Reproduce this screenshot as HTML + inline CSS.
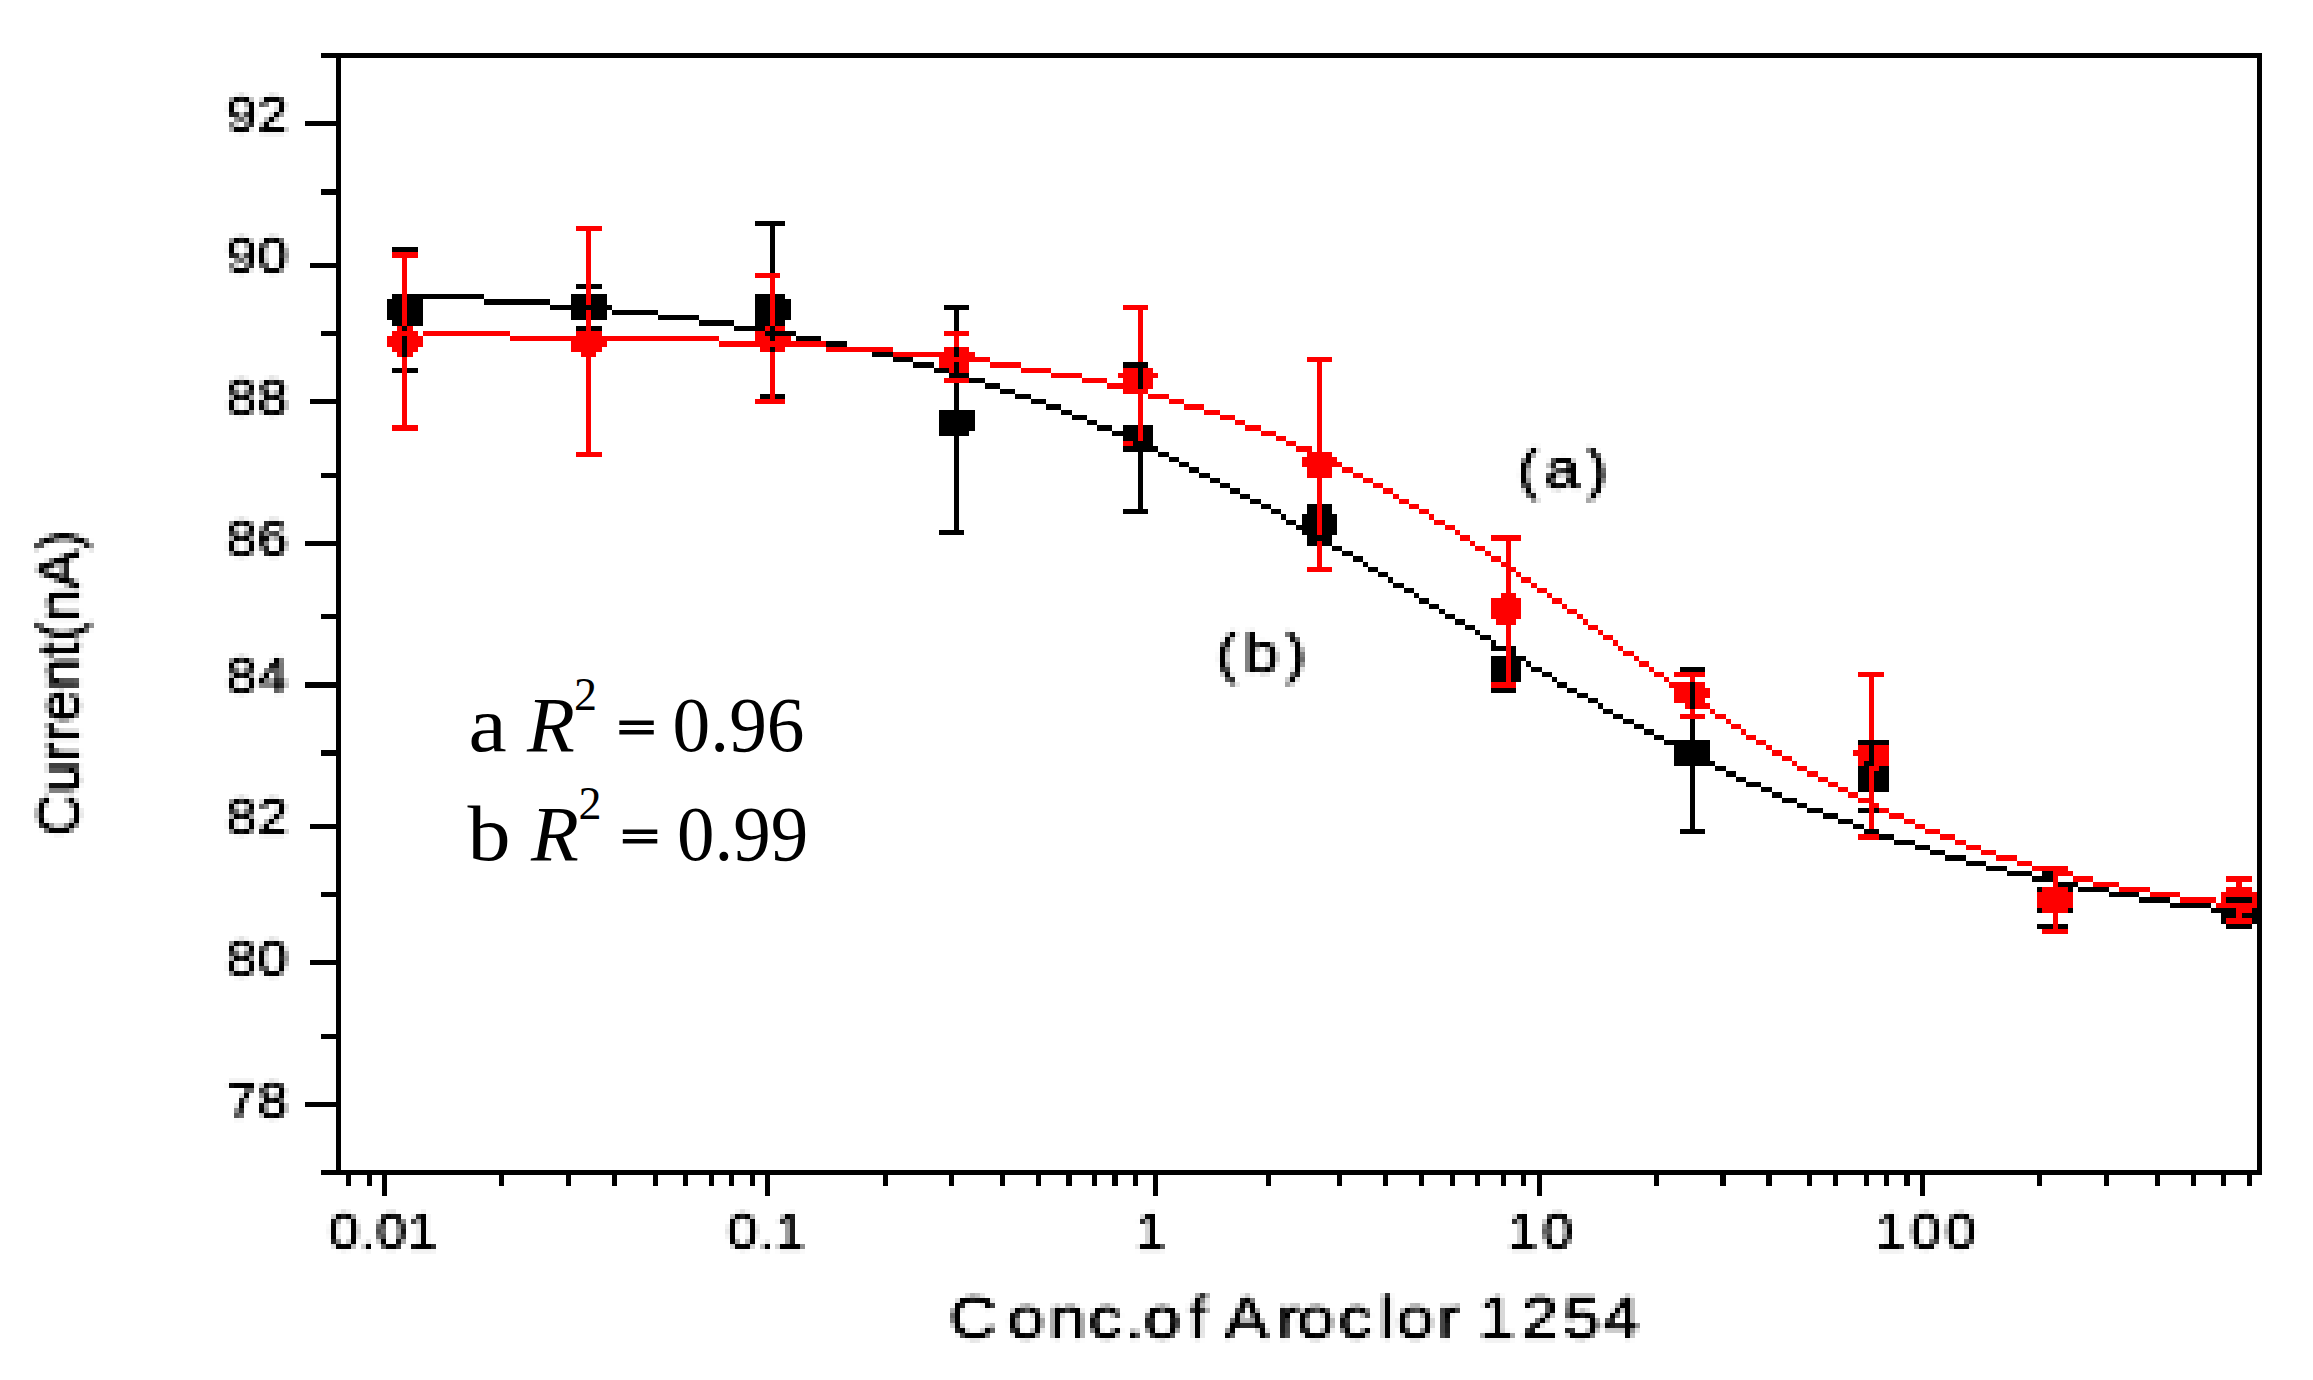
<!DOCTYPE html>
<html lang="en">
<head>
<meta charset="utf-8">
<title>Current vs. Conc. of Aroclor 1254</title>
<style>
html,body{margin:0;padding:0;background:#fff;}
body{width:2313px;height:1380px;overflow:hidden;}
svg{display:block;}
text.lo{font-family:'Liberation Sans', sans-serif;fill:#000;}
text.hi{font-family:'Liberation Serif', serif;fill:#000;}
</style>
</head>
<body>
<svg width="2313" height="1380" viewBox="0 0 2313 1380">
<defs>
<filter id="p0" filterUnits="userSpaceOnUse" x="214" y="87" width="95" height="65" color-interpolation-filters="sRGB"><feGaussianBlur in="SourceGraphic" stdDeviation="1.6"/><feComponentTransfer result="b"><feFuncA type="linear" slope="1.35" intercept="0"/></feComponentTransfer><feFlood x="216" y="89" width="1" height="1" flood-color="#000"/><feComposite x="214" y="87" width="5" height="5" in2="SourceGraphic" operator="over"/><feTile result="tiles"/><feComposite in="b" in2="tiles" operator="in"/><feMorphology operator="dilate" radius="2"/></filter>
<filter id="p1" filterUnits="userSpaceOnUse" x="214" y="228" width="95" height="65" color-interpolation-filters="sRGB"><feGaussianBlur in="SourceGraphic" stdDeviation="1.6"/><feComponentTransfer result="b"><feFuncA type="linear" slope="1.35" intercept="0"/></feComponentTransfer><feFlood x="216" y="230" width="1" height="1" flood-color="#000"/><feComposite x="214" y="228" width="5" height="5" in2="SourceGraphic" operator="over"/><feTile result="tiles"/><feComposite in="b" in2="tiles" operator="in"/><feMorphology operator="dilate" radius="2"/></filter>
<filter id="p2" filterUnits="userSpaceOnUse" x="214" y="370" width="95" height="65" color-interpolation-filters="sRGB"><feGaussianBlur in="SourceGraphic" stdDeviation="1.6"/><feComponentTransfer result="b"><feFuncA type="linear" slope="1.35" intercept="0"/></feComponentTransfer><feFlood x="216" y="372" width="1" height="1" flood-color="#000"/><feComposite x="214" y="370" width="5" height="5" in2="SourceGraphic" operator="over"/><feTile result="tiles"/><feComposite in="b" in2="tiles" operator="in"/><feMorphology operator="dilate" radius="2"/></filter>
<filter id="p3" filterUnits="userSpaceOnUse" x="214" y="511" width="95" height="65" color-interpolation-filters="sRGB"><feGaussianBlur in="SourceGraphic" stdDeviation="1.6"/><feComponentTransfer result="b"><feFuncA type="linear" slope="1.35" intercept="0"/></feComponentTransfer><feFlood x="216" y="513" width="1" height="1" flood-color="#000"/><feComposite x="214" y="511" width="5" height="5" in2="SourceGraphic" operator="over"/><feTile result="tiles"/><feComposite in="b" in2="tiles" operator="in"/><feMorphology operator="dilate" radius="2"/></filter>
<filter id="p4" filterUnits="userSpaceOnUse" x="214" y="648" width="95" height="65" color-interpolation-filters="sRGB"><feGaussianBlur in="SourceGraphic" stdDeviation="1.6"/><feComponentTransfer result="b"><feFuncA type="linear" slope="1.35" intercept="0"/></feComponentTransfer><feFlood x="216" y="650" width="1" height="1" flood-color="#000"/><feComposite x="214" y="648" width="5" height="5" in2="SourceGraphic" operator="over"/><feTile result="tiles"/><feComposite in="b" in2="tiles" operator="in"/><feMorphology operator="dilate" radius="2"/></filter>
<filter id="p5" filterUnits="userSpaceOnUse" x="214" y="789" width="95" height="65" color-interpolation-filters="sRGB"><feGaussianBlur in="SourceGraphic" stdDeviation="1.6"/><feComponentTransfer result="b"><feFuncA type="linear" slope="1.35" intercept="0"/></feComponentTransfer><feFlood x="216" y="791" width="1" height="1" flood-color="#000"/><feComposite x="214" y="789" width="5" height="5" in2="SourceGraphic" operator="over"/><feTile result="tiles"/><feComposite in="b" in2="tiles" operator="in"/><feMorphology operator="dilate" radius="2"/></filter>
<filter id="p6" filterUnits="userSpaceOnUse" x="214" y="931" width="95" height="65" color-interpolation-filters="sRGB"><feGaussianBlur in="SourceGraphic" stdDeviation="1.6"/><feComponentTransfer result="b"><feFuncA type="linear" slope="1.35" intercept="0"/></feComponentTransfer><feFlood x="216" y="933" width="1" height="1" flood-color="#000"/><feComposite x="214" y="931" width="5" height="5" in2="SourceGraphic" operator="over"/><feTile result="tiles"/><feComposite in="b" in2="tiles" operator="in"/><feMorphology operator="dilate" radius="2"/></filter>
<filter id="p7" filterUnits="userSpaceOnUse" x="214" y="1073" width="95" height="65" color-interpolation-filters="sRGB"><feGaussianBlur in="SourceGraphic" stdDeviation="1.6"/><feComponentTransfer result="b"><feFuncA type="linear" slope="1.35" intercept="0"/></feComponentTransfer><feFlood x="216" y="1075" width="1" height="1" flood-color="#000"/><feComposite x="214" y="1073" width="5" height="5" in2="SourceGraphic" operator="over"/><feTile result="tiles"/><feComposite in="b" in2="tiles" operator="in"/><feMorphology operator="dilate" radius="2"/></filter>
<filter id="p8" filterUnits="userSpaceOnUse" x="316" y="1204" width="165" height="65" color-interpolation-filters="sRGB"><feGaussianBlur in="SourceGraphic" stdDeviation="1.6"/><feComponentTransfer result="b"><feFuncA type="linear" slope="1.35" intercept="0"/></feComponentTransfer><feFlood x="318" y="1206" width="1" height="1" flood-color="#000"/><feComposite x="316" y="1204" width="5" height="5" in2="SourceGraphic" operator="over"/><feTile result="tiles"/><feComposite in="b" in2="tiles" operator="in"/><feMorphology operator="dilate" radius="2"/></filter>
<filter id="p9" filterUnits="userSpaceOnUse" x="715" y="1204" width="130" height="65" color-interpolation-filters="sRGB"><feGaussianBlur in="SourceGraphic" stdDeviation="1.6"/><feComponentTransfer result="b"><feFuncA type="linear" slope="1.35" intercept="0"/></feComponentTransfer><feFlood x="717" y="1206" width="1" height="1" flood-color="#000"/><feComposite x="715" y="1204" width="5" height="5" in2="SourceGraphic" operator="over"/><feTile result="tiles"/><feComposite in="b" in2="tiles" operator="in"/><feMorphology operator="dilate" radius="2"/></filter>
<filter id="p10" filterUnits="userSpaceOnUse" x="1120" y="1204" width="65" height="65" color-interpolation-filters="sRGB"><feGaussianBlur in="SourceGraphic" stdDeviation="1.6"/><feComponentTransfer result="b"><feFuncA type="linear" slope="1.35" intercept="0"/></feComponentTransfer><feFlood x="1122" y="1206" width="1" height="1" flood-color="#000"/><feComposite x="1120" y="1204" width="5" height="5" in2="SourceGraphic" operator="over"/><feTile result="tiles"/><feComposite in="b" in2="tiles" operator="in"/><feMorphology operator="dilate" radius="2"/></filter>
<filter id="p11" filterUnits="userSpaceOnUse" x="1492" y="1204" width="105" height="65" color-interpolation-filters="sRGB"><feGaussianBlur in="SourceGraphic" stdDeviation="1.6"/><feComponentTransfer result="b"><feFuncA type="linear" slope="1.35" intercept="0"/></feComponentTransfer><feFlood x="1494" y="1206" width="1" height="1" flood-color="#000"/><feComposite x="1492" y="1204" width="5" height="5" in2="SourceGraphic" operator="over"/><feTile result="tiles"/><feComposite in="b" in2="tiles" operator="in"/><feMorphology operator="dilate" radius="2"/></filter>
<filter id="p12" filterUnits="userSpaceOnUse" x="1859" y="1204" width="145" height="65" color-interpolation-filters="sRGB"><feGaussianBlur in="SourceGraphic" stdDeviation="1.6"/><feComponentTransfer result="b"><feFuncA type="linear" slope="1.35" intercept="0"/></feComponentTransfer><feFlood x="1861" y="1206" width="1" height="1" flood-color="#000"/><feComposite x="1859" y="1204" width="5" height="5" in2="SourceGraphic" operator="over"/><feTile result="tiles"/><feComposite in="b" in2="tiles" operator="in"/><feMorphology operator="dilate" radius="2"/></filter>
<filter id="p13" filterUnits="userSpaceOnUse" x="935" y="1283" width="750" height="75" color-interpolation-filters="sRGB"><feGaussianBlur in="SourceGraphic" stdDeviation="1.6"/><feComponentTransfer result="b"><feFuncA type="linear" slope="1.35" intercept="0"/></feComponentTransfer><feFlood x="937" y="1285" width="1" height="1" flood-color="#000"/><feComposite x="935" y="1283" width="5" height="5" in2="SourceGraphic" operator="over"/><feTile result="tiles"/><feComposite in="b" in2="tiles" operator="in"/><feMorphology operator="dilate" radius="2"/></filter>
<filter id="p14" filterUnits="userSpaceOnUse" x="19" y="518" width="85" height="330" color-interpolation-filters="sRGB"><feGaussianBlur in="SourceGraphic" stdDeviation="1.6"/><feComponentTransfer result="b"><feFuncA type="linear" slope="1.35" intercept="0"/></feComponentTransfer><feFlood x="21" y="520" width="1" height="1" flood-color="#000"/><feComposite x="19" y="518" width="5" height="5" in2="SourceGraphic" operator="over"/><feTile result="tiles"/><feComposite in="b" in2="tiles" operator="in"/><feMorphology operator="dilate" radius="2"/></filter>
<filter id="p15" filterUnits="userSpaceOnUse" x="1501" y="438" width="170" height="70" color-interpolation-filters="sRGB"><feGaussianBlur in="SourceGraphic" stdDeviation="1.6"/><feComponentTransfer result="b"><feFuncA type="linear" slope="1.35" intercept="0"/></feComponentTransfer><feFlood x="1503" y="440" width="1" height="1" flood-color="#000"/><feComposite x="1501" y="438" width="5" height="5" in2="SourceGraphic" operator="over"/><feTile result="tiles"/><feComposite in="b" in2="tiles" operator="in"/><feMorphology operator="dilate" radius="2"/></filter>
<filter id="p16" filterUnits="userSpaceOnUse" x="1200" y="622" width="170" height="70" color-interpolation-filters="sRGB"><feGaussianBlur in="SourceGraphic" stdDeviation="1.6"/><feComponentTransfer result="b"><feFuncA type="linear" slope="1.35" intercept="0"/></feComponentTransfer><feFlood x="1202" y="624" width="1" height="1" flood-color="#000"/><feComposite x="1200" y="622" width="5" height="5" in2="SourceGraphic" operator="over"/><feTile result="tiles"/><feComposite in="b" in2="tiles" operator="in"/><feMorphology operator="dilate" radius="2"/></filter>
</defs>
<rect width="2313" height="1380" fill="#fff"/>
<path shape-rendering="crispEdges" fill="#000" d="M321 53h1941v5h-1941zM336 58h5v63h-5zM2257 58h5v850h-5zM305 121h36v5h-36zM336 126h5v63h-5zM321 189h20v6h-20zM336 195h5v68h-5zM755 221h30v5h-30zM770 226h5v47h-5zM392 247h26v5h-26zM310 263h31v5h-31zM336 268h5v63h-5zM576 284h10v5h-10zM591 284h11v5h-11zM392 294h10v5h-10zM407 294h77v5h-77zM571 294h15v11h-15zM591 294h16v11h-16zM755 294h15v32h-15zM775 294h10v5h-10zM387 299h15v21h-15zM407 299h16v27h-16zM484 299h66v6h-66zM775 299h16v21h-16zM550 305h62v5h-62zM944 305h25v5h-25zM571 310h15v10h-15zM591 310h16v10h-16zM612 310h46v5h-46zM954 310h5v21h-5zM658 315h41v5h-41zM392 320h10v6h-10zM699 320h35v6h-35zM775 320h10v6h-10zM402 326h5v5h-5zM576 326h10v5h-10zM591 326h11v5h-11zM734 326h31v5h-31zM770 326h5v5h-5zM321 331h20v5h-20zM765 331h31v5h-31zM336 336h5v63h-5zM402 336h5v21h-5zM770 336h5v5h-5zM796 336h25v5h-25zM826 341h21v6h-21zM770 347h5v5h-5zM954 347h5v10h-5zM872 352h21v5h-21zM893 357h20v5h-20zM913 362h21v6h-21zM954 362h5v11h-5zM1123 362h25v6h-25zM392 368h10v5h-10zM407 368h11v5h-11zM934 368h15v5h-15zM1138 368h5v21h-5zM949 373h20v5h-20zM969 378h16v5h-16zM954 383h5v27h-5zM985 383h15v6h-15zM1000 389h15v5h-15zM760 394h10v5h-10zM775 394h10v5h-10zM1015 394h16v5h-16zM310 399h31v5h-31zM1031 399h15v5h-15zM336 404h5v69h-5zM1046 404h15v6h-15zM939 410h36v21h-36zM1061 410h11v5h-11zM1072 415h15v5h-15zM1087 420h10v5h-10zM1097 425h15v6h-15zM1123 425h15v6h-15zM1143 425h10v16h-10zM939 431h30v5h-30zM1112 431h26v5h-26zM954 436h5v94h-5zM1123 436h15v5h-15zM1133 441h20v5h-20zM1123 446h35v6h-35zM1138 452h5v57h-5zM1158 452h11v5h-11zM1169 457h10v5h-10zM1179 462h10v5h-10zM1189 467h10v6h-10zM321 473h20v5h-20zM1199 473h11v5h-11zM336 478h5v63h-5zM1210 478h10v5h-10zM1220 483h10v5h-10zM1230 488h10v6h-10zM1240 494h10v5h-10zM1250 499h11v5h-11zM1261 504h10v5h-10zM1307 504h10v10h-10zM1322 504h10v10h-10zM1123 509h25v5h-25zM1271 509h10v5h-10zM1281 514h5v6h-5zM1302 514h15v11h-15zM1322 514h15v21h-15zM1286 520h10v5h-10zM1296 525h21v5h-21zM939 530h25v5h-25zM1302 530h15v5h-15zM1307 535h25v6h-25zM305 541h36v5h-36zM1307 541h10v5h-10zM1322 541h10v5h-10zM336 546h5v68h-5zM1332 546h10v5h-10zM1342 551h11v5h-11zM1353 556h10v6h-10zM1363 562h5v5h-5zM1368 567h10v5h-10zM1378 572h10v5h-10zM1388 577h5v6h-5zM1393 583h11v5h-11zM1404 588h10v5h-10zM1414 593h5v5h-5zM1419 598h10v6h-10zM1429 604h10v5h-10zM1439 609h6v5h-6zM321 614h20v5h-20zM1445 614h10v5h-10zM336 619h5v63h-5zM1455 619h10v6h-10zM1465 625h10v5h-10zM1475 630h5v5h-5zM1480 635h11v5h-11zM1491 640h5v6h-5zM1491 646h15v5h-15zM1511 646h5v10h-5zM1491 656h15v26h-15zM1511 656h15v5h-15zM1511 661h10v21h-10zM1526 661h5v6h-5zM1531 667h11v5h-11zM1680 667h25v5h-25zM1542 672h10v5h-10zM1552 677h5v5h-5zM305 682h36v6h-36zM1557 682h10v6h-10zM1690 682h5v27h-5zM336 688h5v62h-5zM1491 688h25v5h-25zM1567 688h10v5h-10zM1577 693h11v5h-11zM1588 698h10v5h-10zM1598 703h5v6h-5zM1603 709h10v5h-10zM1613 714h10v5h-10zM1623 719h11v5h-11zM1690 719h5v21h-5zM1634 724h10v5h-10zM1644 729h10v6h-10zM1654 735h10v5h-10zM1664 740h46v5h-46zM1858 740h31v5h-31zM1674 745h36v16h-36zM1869 745h5v16h-5zM321 750h20v6h-20zM336 756h5v68h-5zM1674 761h41v5h-41zM1864 761h10v5h-10zM1690 766h5v63h-5zM1715 766h11v5h-11zM1858 766h11v26h-11zM1879 766h10v5h-10zM1726 771h10v6h-10zM1874 771h15v21h-15zM1736 777h10v5h-10zM1746 782h15v5h-15zM1761 787h11v5h-11zM1772 792h10v6h-10zM1782 798h15v5h-15zM1797 803h10v5h-10zM1807 808h16v5h-16zM1858 808h11v5h-11zM1874 808h5v5h-5zM1823 813h15v6h-15zM1838 819h15v5h-15zM310 824h31v5h-31zM1853 824h11v5h-11zM336 829h5v63h-5zM1680 829h25v5h-25zM1864 829h15v5h-15zM1879 834h15v6h-15zM1894 840h21v5h-21zM1915 845h15v5h-15zM1930 850h15v5h-15zM1945 855h21v6h-21zM1966 861h20v5h-20zM1986 866h21v5h-21zM2007 871h25v5h-25zM2042 871h11v5h-11zM2032 876h21v6h-21zM2058 882h20v5h-20zM2037 887h5v5h-5zM2068 887h5v5h-5zM2078 887h31v5h-31zM321 892h20v5h-20zM2109 892h30v5h-30zM336 897h5v63h-5zM2139 897h31v6h-31zM2226 897h26v6h-26zM2170 903h41v5h-41zM2037 908h5v5h-5zM2068 908h5v5h-5zM2211 908h25v5h-25zM2252 908h10v5h-10zM2221 913h15v5h-15zM2242 913h20v5h-20zM2221 918h5v6h-5zM2252 918h10v6h-10zM2037 924h16v5h-16zM2058 924h10v5h-10zM2226 924h26v5h-26zM2257 924h5v246h-5zM310 960h31v5h-31zM336 965h5v69h-5zM321 1034h20v5h-20zM336 1039h5v63h-5zM305 1102h36v5h-36zM336 1107h5v63h-5zM321 1170h1941v5h-1941zM346 1175h5v11h-5zM367 1175h5v11h-5zM382 1175h5v21h-5zM499 1175h5v11h-5zM566 1175h5v11h-5zM612 1175h5v11h-5zM653 1175h5v11h-5zM683 1175h5v11h-5zM709 1175h5v11h-5zM729 1175h5v11h-5zM750 1175h5v11h-5zM765 1175h5v21h-5zM883 1175h5v11h-5zM949 1175h5v11h-5zM1000 1175h5v11h-5zM1036 1175h5v11h-5zM1066 1175h6v11h-6zM1092 1175h5v11h-5zM1112 1175h6v11h-6zM1133 1175h5v11h-5zM1153 1175h5v21h-5zM1266 1175h5v11h-5zM1337 1175h5v11h-5zM1383 1175h5v11h-5zM1419 1175h5v11h-5zM1450 1175h5v11h-5zM1475 1175h5v11h-5zM1501 1175h5v11h-5zM1521 1175h5v11h-5zM1537 1175h5v21h-5zM1654 1175h5v11h-5zM1720 1175h6v11h-6zM1766 1175h6v11h-6zM1807 1175h5v11h-5zM1833 1175h5v11h-5zM1864 1175h5v11h-5zM1884 1175h5v11h-5zM1904 1175h6v11h-6zM1920 1175h5v21h-5zM2037 1175h5v11h-5zM2104 1175h5v11h-5zM2155 1175h5v11h-5zM2191 1175h5v11h-5zM2221 1175h5v11h-5zM2247 1175h5v11h-5z"/>
<path shape-rendering="crispEdges" fill="#fe0000" d="M576 226h26v5h-26zM586 231h5v74h-5zM392 252h26v6h-26zM402 258h5v68h-5zM755 273h25v5h-25zM770 278h5v48h-5zM1123 305h25v5h-25zM586 310h5v21h-5zM1138 310h5v52h-5zM397 326h5v5h-5zM407 326h6v5h-6zM765 326h5v5h-5zM775 326h10v5h-10zM392 331h26v5h-26zM423 331h87v5h-87zM576 331h26v5h-26zM755 331h10v5h-10zM944 331h25v5h-25zM387 336h15v11h-15zM407 336h16v11h-16zM510 336h209v5h-209zM755 336h15v5h-15zM775 336h16v5h-16zM954 336h5v11h-5zM571 341h36v6h-36zM719 341h107v6h-107zM392 347h10v5h-10zM407 347h11v5h-11zM571 347h31v5h-31zM760 347h10v5h-10zM775 347h10v5h-10zM826 347h67v5h-67zM944 347h10v5h-10zM959 347h10v5h-10zM397 352h5v5h-5zM407 352h6v5h-6zM581 352h15v5h-15zM770 352h5v47h-5zM893 352h61v5h-61zM959 352h16v5h-16zM402 357h5v68h-5zM586 357h5v95h-5zM939 357h51v5h-51zM1307 357h25v5h-25zM939 362h15v6h-15zM959 362h10v11h-10zM990 362h31v6h-31zM1317 362h5v90h-5zM949 368h5v5h-5zM1021 368h30v5h-30zM1123 368h15v5h-15zM1143 368h10v5h-10zM1051 373h31v5h-31zM1118 373h20v5h-20zM1143 373h15v5h-15zM944 378h25v5h-25zM1082 378h25v5h-25zM1123 378h15v5h-15zM1143 378h10v11h-10zM1107 383h31v6h-31zM1123 389h25v5h-25zM1138 394h5v47h-5zM1148 394h21v5h-21zM755 399h30v5h-30zM1169 399h15v5h-15zM1184 404h20v6h-20zM1204 410h16v5h-16zM1220 415h15v5h-15zM1235 420h10v5h-10zM392 425h26v6h-26zM1245 425h16v6h-16zM1261 431h15v5h-15zM1276 436h10v5h-10zM1123 441h10v5h-10zM1286 441h10v5h-10zM1296 446h16v6h-16zM576 452h26v5h-26zM1307 452h25v5h-25zM1302 457h35v5h-35zM1302 462h40v5h-40zM1307 467h25v11h-25zM1342 467h11v6h-11zM1353 473h10v5h-10zM1317 478h5v57h-5zM1363 478h10v5h-10zM1373 483h10v5h-10zM1383 488h10v6h-10zM1393 494h6v5h-6zM1399 499h10v5h-10zM1409 504h10v5h-10zM1419 509h10v5h-10zM1429 514h5v6h-5zM1434 520h11v5h-11zM1445 525h10v5h-10zM1455 530h5v5h-5zM1460 535h10v6h-10zM1491 535h30v6h-30zM1317 541h5v26h-5zM1470 541h5v5h-5zM1506 541h5v21h-5zM1475 546h10v5h-10zM1485 551h6v5h-6zM1491 556h10v6h-10zM1501 562h10v5h-10zM1307 567h25v5h-25zM1506 567h10v5h-10zM1506 572h5v21h-5zM1516 572h5v5h-5zM1521 577h10v6h-10zM1531 583h6v5h-6zM1537 588h10v5h-10zM1501 593h15v5h-15zM1547 593h5v5h-5zM1491 598h30v21h-30zM1552 598h10v6h-10zM1562 604h5v5h-5zM1567 609h10v5h-10zM1577 614h6v5h-6zM1496 619h20v6h-20zM1583 619h5v6h-5zM1506 625h5v57h-5zM1588 625h10v5h-10zM1598 630h5v5h-5zM1603 635h10v5h-10zM1613 640h5v6h-5zM1618 646h5v5h-5zM1623 651h11v5h-11zM1634 656h5v5h-5zM1639 661h10v6h-10zM1649 667h5v5h-5zM1654 672h10v5h-10zM1674 672h31v5h-31zM1858 672h26v5h-26zM1664 677h5v5h-5zM1690 677h5v5h-5zM1869 677h5v63h-5zM1491 682h25v6h-25zM1669 682h21v6h-21zM1695 682h10v6h-10zM1674 688h16v15h-16zM1695 688h15v10h-15zM1695 698h10v5h-10zM1685 703h5v6h-5zM1695 703h15v6h-15zM1690 709h5v5h-5zM1710 709h5v5h-5zM1680 714h25v5h-25zM1715 714h11v5h-11zM1726 719h5v5h-5zM1731 724h10v5h-10zM1741 729h5v6h-5zM1746 735h10v5h-10zM1756 740h10v5h-10zM1766 745h6v5h-6zM1858 745h11v5h-11zM1874 745h15v21h-15zM1772 750h10v6h-10zM1853 750h16v6h-16zM1782 756h10v5h-10zM1858 756h11v5h-11zM1792 761h5v5h-5zM1858 761h6v5h-6zM1797 766h10v5h-10zM1869 766h10v5h-10zM1807 771h11v6h-11zM1869 771h5v27h-5zM1818 777h10v5h-10zM1828 782h10v5h-10zM1838 787h10v5h-10zM1848 792h10v6h-10zM1858 798h16v5h-16zM1869 803h10v5h-10zM1869 808h5v21h-5zM1879 808h10v5h-10zM1889 813h15v6h-15zM1904 819h11v5h-11zM1915 824h10v5h-10zM1925 829h15v5h-15zM1858 834h21v6h-21zM1940 834h15v6h-15zM1955 840h11v5h-11zM1966 845h15v5h-15zM1981 850h15v5h-15zM1996 855h21v6h-21zM2017 861h15v5h-15zM2032 866h36v5h-36zM2053 871h20v5h-20zM2053 876h5v11h-5zM2073 876h20v6h-20zM2226 876h26v6h-26zM2093 882h26v5h-26zM2236 882h6v5h-6zM2042 887h26v5h-26zM2119 887h31v5h-31zM2226 887h26v5h-26zM2037 892h36v16h-36zM2150 892h30v5h-30zM2221 892h36v5h-36zM2180 897h36v6h-36zM2221 897h5v6h-5zM2252 897h5v6h-5zM2216 903h41v5h-41zM2042 908h26v5h-26zM2236 908h16v5h-16zM2053 913h5v16h-5zM2236 913h6v5h-6zM2226 918h26v6h-26zM2042 929h26v5h-26z"/>
<g filter="url(#p0)"><text class="lo" transform="translate(226.6 132) scale(1.075 1)" font-size="50.5" letter-spacing="0.93">92</text></g>
<g filter="url(#p1)"><text class="lo" transform="translate(226.6 273) scale(1.075 1)" font-size="50.5" letter-spacing="0.93">90</text></g>
<g filter="url(#p2)"><text class="lo" transform="translate(226.6 415) scale(1.075 1)" font-size="50.5" letter-spacing="0.93">88</text></g>
<g filter="url(#p3)"><text class="lo" transform="translate(226.6 556) scale(1.075 1)" font-size="50.5" letter-spacing="0.93">86</text></g>
<g filter="url(#p4)"><text class="lo" transform="translate(226.6 693) scale(1.075 1)" font-size="50.5" letter-spacing="0.93">84</text></g>
<g filter="url(#p5)"><text class="lo" transform="translate(226.6 834) scale(1.075 1)" font-size="50.5" letter-spacing="0.93">82</text></g>
<g filter="url(#p6)"><text class="lo" transform="translate(226.6 976) scale(1.075 1)" font-size="50.5" letter-spacing="0.93">80</text></g>
<g filter="url(#p7)"><text class="lo" transform="translate(226.6 1118) scale(1.075 1)" font-size="50.5" letter-spacing="0.93">78</text></g>
<g filter="url(#p8)"><text class="lo" transform="translate(328.9 1249) scale(1.075 1)" font-size="50.5" letter-spacing="0.93">0.01</text></g>
<g filter="url(#p9)"><text class="lo" transform="translate(727.5 1249) scale(1.075 1)" font-size="50.5" letter-spacing="0.93">0.1</text></g>
<g filter="url(#p10)"><text class="lo" transform="translate(1135.6 1249) scale(1.075 1)" font-size="50.5">1</text></g>
<g filter="url(#p11)"><text class="lo" transform="translate(1507.4 1249) scale(1.075 1)" font-size="50.5" letter-spacing="4.651">10</text></g>
<g filter="url(#p12)"><text class="lo" transform="translate(1875.2 1249) scale(1.075 1)" font-size="50.5" letter-spacing="4.651">100</text></g>
<g filter="url(#p13)"><text class="lo" transform="translate(0 1338) scale(1.12 1)" font-size="59" x="847.51 899.89 936.69 972.1 1004.61 1021.54 1061.31 1079.01 1093.49 1140.43 1158.42 1195.27 1231.62 1247.35 1283.82 1301.52 1319.77 1358.42 1395.67 1431.1">Conc.of Aroclor 1254</text></g>
<g filter="url(#p14)"><text class="lo" transform="translate(79 836) rotate(-90)" font-size="58.5">Current(nA)</text></g>
<g filter="url(#p15)"><text class="lo" transform="translate(1517.4 488) scale(1.15 1)" font-size="55" letter-spacing="5.565">(a)</text></g>
<g filter="url(#p16)"><text class="lo" transform="translate(1216.3 672) scale(1.15 1)" font-size="55" letter-spacing="5.565">(b)</text></g>
<text class="hi" font-size="78.3"><tspan x="468.5" y="751.3" textLength="38.2" lengthAdjust="spacingAndGlyphs">a</tspan> <tspan x="527" y="751.3" font-style="italic">R</tspan><tspan x="574" y="710.3" font-size="46">2</tspan> <tspan x="616.6" y="742.8" font-size="48.5" font-weight="bold" stroke="#000" stroke-width="1" textLength="40.5" lengthAdjust="spacingAndGlyphs">=</tspan> <tspan x="672.6" y="751.3" textLength="132" lengthAdjust="spacingAndGlyphs">0.96</tspan></text>
<text class="hi" font-size="78.3"><tspan x="467.5" y="860.0" textLength="43.1" lengthAdjust="spacingAndGlyphs">b</tspan> <tspan x="531" y="860.0" font-style="italic">R</tspan><tspan x="578.5" y="819.0" font-size="46">2</tspan> <tspan x="620.1" y="851.5" font-size="48.5" font-weight="bold" stroke="#000" stroke-width="1" textLength="40.5" lengthAdjust="spacingAndGlyphs">=</tspan> <tspan x="677.1" y="860.0" textLength="131.2" lengthAdjust="spacingAndGlyphs">0.99</tspan></text>
</svg>
</body>
</html>
